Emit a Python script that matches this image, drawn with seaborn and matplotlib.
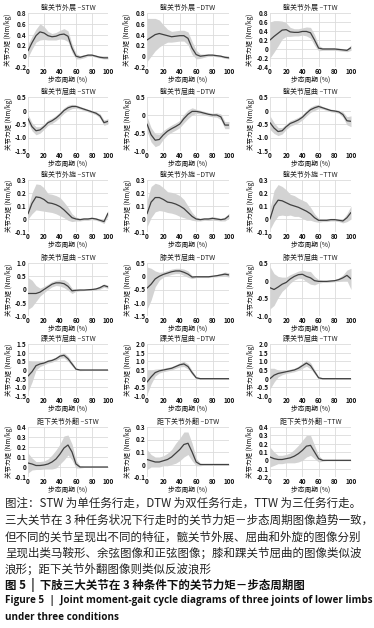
import numpy as np
import pandas as pd
import matplotlib
matplotlib.use("Agg")
import matplotlib.pyplot as plt
import seaborn as sns

sns.set_theme(style="whitegrid")
plt.rcParams['font.family'] = ['Noto Sans CJK SC', 'DejaVu Sans']

# ---------------- data ----------------
gait = [0, 5, 10, 15, 20, 25, 30, 35, 40, 45, 50, 55, 60, 65, 70, 75, 80, 85, 90, 95, 100]
joints = ["髋关节外展", "髋关节屈曲", "髋关节外旋", "膝关节屈曲", "踝关节屈曲", "距下关节外翻"]
tasks = ["STW", "DTW", "TTW"]

# mean curves
hip_abd_stw = [0.10, 0.25, 0.38, 0.45, 0.43, 0.38, 0.36, 0.37, 0.40, 0.41, 0.37, 0.15, 0.00, -0.02, 0.00, 0.02, 0.02, 0.00, -0.02, -0.03, -0.03]
hip_abd_dtw = [0.30, 0.35, 0.40, 0.42, 0.40, 0.38, 0.36, 0.37, 0.38, 0.38, 0.33, 0.15, 0.03, 0.00, 0.01, 0.02, 0.02, 0.01, 0.00, -0.02, -0.03]
hip_abd_ttw = [0.20, 0.28, 0.35, 0.42, 0.43, 0.38, 0.37, 0.37, 0.39, 0.39, 0.36, 0.20, 0.02, 0.00, 0.00, 0.00, 0.00, -0.01, -0.02, -0.03, 0.03]
hip_flx_stw = [-0.30, -0.60, -0.75, -0.72, -0.60, -0.45, -0.38, -0.28, -0.15, 0.00, 0.10, 0.15, 0.15, 0.10, 0.05, 0.00, -0.05, -0.10, -0.20, -0.45, -0.40]
hip_flx_dtw = [-0.25, -0.55, -0.70, -0.68, -0.55, -0.45, -0.38, -0.32, -0.25, -0.10, 0.02, 0.10, 0.10, 0.08, 0.05, 0.02, 0.00, 0.00, -0.05, -0.28, -0.28]
hip_flx_ttw = [-0.45, -0.65, -0.78, -0.75, -0.60, -0.48, -0.42, -0.35, -0.25, -0.10, 0.03, 0.10, 0.15, 0.10, 0.05, 0.00, -0.02, -0.05, -0.15, -0.38, -0.40]
hip_rot_stw = [0.04, 0.12, 0.17, 0.165, 0.15, 0.125, 0.12, 0.11, 0.095, 0.07, 0.04, 0.01, 0.00, -0.005, 0.00, 0.00, 0.005, 0.00, -0.01, -0.02, 0.045]
hip_rot_dtw = [0.04, 0.13, 0.165, 0.165, 0.15, 0.13, 0.125, 0.115, 0.10, 0.08, 0.05, 0.02, 0.00, -0.005, 0.00, 0.00, 0.005, 0.00, -0.005, 0.00, 0.025]
hip_rot_ttw = [0.00, 0.10, 0.145, 0.14, 0.125, 0.11, 0.10, 0.09, 0.075, 0.06, 0.04, 0.01, -0.01, -0.01, -0.01, -0.005, -0.005, -0.01, -0.015, 0.01, 0.05]
knee_stw = [-0.15, -0.15, -0.15, -0.10, 0.00, 0.10, 0.20, 0.25, 0.25, 0.22, 0.12, -0.05, -0.03, -0.02, -0.02, -0.01, 0.00, 0.02, 0.07, 0.15, 0.10]
knee_dtw = [-0.45, -0.30, -0.10, 0.00, 0.07, 0.12, 0.17, 0.20, 0.20, 0.15, 0.08, -0.03, -0.02, -0.02, -0.02, -0.02, 0.00, 0.02, 0.05, 0.08, 0.05]
knee_ttw = [-0.20, -0.25, -0.18, -0.10, -0.05, 0.05, 0.12, 0.17, 0.18, 0.12, 0.08, 0.00, -0.02, -0.02, -0.02, -0.01, 0.00, 0.03, 0.08, 0.15, 0.05]
ankle_stw = [-0.35, -0.10, 0.25, 0.35, 0.40, 0.50, 0.55, 0.65, 0.80, 0.85, 0.65, 0.35, 0.05, 0.00, 0.00, 0.00, 0.00, 0.00, 0.00, 0.00, 0.00]
ankle_dtw = [-0.20, 0.10, 0.35, 0.45, 0.50, 0.55, 0.60, 0.70, 0.80, 0.85, 0.70, 0.35, 0.05, 0.00, 0.00, 0.00, 0.00, 0.00, 0.00, 0.00, 0.00]
ankle_ttw = [0.00, 0.20, 0.30, 0.35, 0.40, 0.45, 0.50, 0.60, 0.75, 0.90, 0.75, 0.40, 0.05, 0.00, 0.00, 0.00, 0.00, 0.00, 0.00, 0.00, 0.00]
sub_stw = [0.04, 0.03, 0.015, 0.015, 0.02, 0.03, 0.05, 0.08, 0.13, 0.19, 0.22, 0.15, 0.03, 0.00, 0.00, 0.00, 0.00, 0.00, 0.00, 0.00, 0.00]
sub_dtw = [0.04, 0.03, 0.02, 0.02, 0.03, 0.04, 0.06, 0.09, 0.12, 0.16, 0.17, 0.10, 0.02, 0.00, 0.00, 0.00, 0.00, 0.00, 0.00, 0.00, 0.00]
sub_ttw = [0.04, 0.02, 0.01, 0.01, 0.02, 0.03, 0.05, 0.08, 0.12, 0.17, 0.18, 0.10, 0.02, 0.00, 0.00, 0.00, 0.00, 0.00, 0.00, 0.00, 0.00]

# half-width of the shaded band (standard deviation)
hip_abd_stw_sd = [0.12, 0.12, 0.12, 0.15, 0.12, 0.08, 0.06, 0.07, 0.08, 0.10, 0.10, 0.08, 0.05, 0.03, 0.03, 0.02, 0.02, 0.02, 0.02, 0.02, 0.02]
hip_abd_dtw_sd = [0.40, 0.35, 0.30, 0.25, 0.18, 0.12, 0.10, 0.10, 0.10, 0.10, 0.12, 0.12, 0.08, 0.04, 0.03, 0.02, 0.02, 0.02, 0.02, 0.02, 0.02]
hip_abd_ttw_sd = [0.40, 0.35, 0.28, 0.20, 0.15, 0.10, 0.08, 0.08, 0.08, 0.10, 0.12, 0.12, 0.06, 0.03, 0.03, 0.03, 0.03, 0.03, 0.03, 0.03, 0.06]
hip_flx_stw_sd = [0.15, 0.15, 0.15, 0.12, 0.10, 0.10, 0.10, 0.10, 0.10, 0.10, 0.10, 0.08, 0.06, 0.05, 0.05, 0.05, 0.05, 0.06, 0.08, 0.10, 0.10]
hip_flx_dtw_sd = [0.20, 0.20, 0.18, 0.15, 0.12, 0.10, 0.10, 0.10, 0.10, 0.12, 0.12, 0.10, 0.06, 0.05, 0.05, 0.05, 0.05, 0.06, 0.08, 0.10, 0.10]
hip_flx_ttw_sd = [0.25, 0.20, 0.15, 0.12, 0.10, 0.10, 0.10, 0.10, 0.10, 0.10, 0.10, 0.10, 0.08, 0.05, 0.05, 0.05, 0.05, 0.06, 0.10, 0.15, 0.20]
hip_rot_stw_sd = [0.04, 0.08, 0.10, 0.10, 0.09, 0.07, 0.07, 0.07, 0.07, 0.06, 0.05, 0.03, 0.015, 0.01, 0.01, 0.01, 0.01, 0.01, 0.01, 0.015, 0.02]
hip_rot_dtw_sd = [0.10, 0.12, 0.11, 0.10, 0.09, 0.08, 0.08, 0.08, 0.08, 0.07, 0.05, 0.03, 0.015, 0.01, 0.01, 0.012, 0.015, 0.012, 0.01, 0.015, 0.02]
hip_rot_ttw_sd = [0.08, 0.12, 0.12, 0.11, 0.10, 0.08, 0.08, 0.07, 0.07, 0.07, 0.05, 0.03, 0.015, 0.01, 0.01, 0.01, 0.01, 0.01, 0.015, 0.03, 0.05]
knee_stw_sd = [0.60, 0.50, 0.30, 0.15, 0.12, 0.10, 0.10, 0.10, 0.12, 0.15, 0.15, 0.10, 0.04, 0.03, 0.02, 0.02, 0.03, 0.04, 0.06, 0.06, 0.06]
knee_dtw_sd = [0.80, 0.60, 0.30, 0.15, 0.10, 0.10, 0.10, 0.10, 0.10, 0.12, 0.12, 0.06, 0.03, 0.03, 0.03, 0.03, 0.03, 0.04, 0.06, 0.08, 0.08]
knee_ttw_sd = [0.60, 0.45, 0.30, 0.20, 0.15, 0.12, 0.10, 0.10, 0.12, 0.15, 0.18, 0.12, 0.05, 0.03, 0.03, 0.03, 0.03, 0.05, 0.08, 0.15, 0.30]
ankle_stw_sd = [0.90, 0.60, 0.25, 0.15, 0.10, 0.10, 0.10, 0.10, 0.12, 0.15, 0.15, 0.12, 0.06, 0.04, 0.03, 0.03, 0.03, 0.03, 0.03, 0.03, 0.03]
ankle_dtw_sd = [0.70, 0.40, 0.20, 0.12, 0.10, 0.10, 0.10, 0.10, 0.12, 0.15, 0.15, 0.12, 0.06, 0.04, 0.03, 0.03, 0.03, 0.03, 0.03, 0.03, 0.03]
ankle_ttw_sd = [0.60, 0.40, 0.20, 0.12, 0.10, 0.10, 0.10, 0.12, 0.15, 0.18, 0.18, 0.12, 0.06, 0.04, 0.03, 0.03, 0.03, 0.03, 0.03, 0.03, 0.03]
sub_stw_sd = [0.10, 0.06, 0.04, 0.04, 0.04, 0.05, 0.07, 0.09, 0.10, 0.12, 0.10, 0.08, 0.04, 0.01, 0.005, 0.005, 0.005, 0.005, 0.005, 0.005, 0.005]
sub_dtw_sd = [0.08, 0.05, 0.04, 0.04, 0.04, 0.05, 0.06, 0.08, 0.09, 0.10, 0.09, 0.07, 0.03, 0.01, 0.005, 0.005, 0.005, 0.005, 0.005, 0.005, 0.005]
sub_ttw_sd = [0.12, 0.08, 0.05, 0.05, 0.05, 0.06, 0.08, 0.10, 0.12, 0.13, 0.12, 0.08, 0.04, 0.01, 0.005, 0.005, 0.005, 0.005, 0.005, 0.005, 0.005]

means = [[hip_abd_stw, hip_abd_dtw, hip_abd_ttw],
         [hip_flx_stw, hip_flx_dtw, hip_flx_ttw],
         [hip_rot_stw, hip_rot_dtw, hip_rot_ttw],
         [knee_stw, knee_dtw, knee_ttw],
         [ankle_stw, ankle_dtw, ankle_ttw],
         [sub_stw, sub_dtw, sub_ttw]]
sds = [[hip_abd_stw_sd, hip_abd_dtw_sd, hip_abd_ttw_sd],
       [hip_flx_stw_sd, hip_flx_dtw_sd, hip_flx_ttw_sd],
       [hip_rot_stw_sd, hip_rot_dtw_sd, hip_rot_ttw_sd],
       [knee_stw_sd, knee_dtw_sd, knee_ttw_sd],
       [ankle_stw_sd, ankle_dtw_sd, ankle_ttw_sd],
       [sub_stw_sd, sub_dtw_sd, sub_ttw_sd]]

# y ticks per panel
yticks = [[[-0.2, 0, 0.2, 0.4, 0.6, 0.8], [-0.2, 0, 0.2, 0.4, 0.6, 0.8], [-0.4, -0.2, 0, 0.2, 0.4, 0.6, 0.8]],
          [[-1.5, -1.0, -0.5, 0, 0.5], [-1.0, -0.5, 0, 0.5], [-1.5, -1.0, -0.5, 0, 0.5]],
          [[-0.1, 0, 0.1, 0.2, 0.3], [-0.1, 0, 0.1, 0.2, 0.3], [-0.1, 0, 0.1, 0.2, 0.3]],
          [[-1.0, -0.5, 0, 0.5, 1.0], [-1.5, -1.0, -0.5, 0, 0.5], [-1.0, -0.5, 0, 0.5]],
          [[-1.5, -1.0, -0.5, 0, 0.5, 1.0, 1.5], [-1.0, -0.5, 0, 0.5, 1.0, 1.5, 2.0], [-1.0, -0.5, 0, 0.5, 1.0, 1.5, 2.0]],
          [[-0.1, 0, 0.1, 0.2, 0.3, 0.4], [-0.1, 0, 0.1, 0.2, 0.3], [-0.2, -0.1, 0, 0.1, 0.2, 0.3, 0.4]]]
xticks = [0, 20, 40, 60, 80, 100]

caption = [
    "图注：STW 为单任务行走，DTW 为双任务行走，TTW 为三任务行走。",
    "三大关节在 3 种任务状况下行走时的关节力矩－步态周期图像趋势一致，",
    "但不同的关节呈现出不同的特征，髋关节外展、屈曲和外旋的图像分别",
    "呈现出类马鞍形、余弦图像和正弦图像；膝和踝关节屈曲的图像类似波",
    "浪形；距下关节外翻图像则类似反波浪形",
]
fig_title_cn = "图 5  |  下肢三大关节在 3 种条件下的关节力矩－步态周期图"
fig_title_en = ["Figure 5  |  Joint moment-gait cycle diagrams of three joints of lower limbs",
                "under three conditions"]

# ---------------- layout ----------------
W, H = 374, 628
fig = plt.figure(figsize=(W / 100, H / 100), dpi=100)
fig.patch.set_facecolor("white")

col_px = [(28, 108), (147, 229), (270, 351)]
row_px = [(13, 67), (97, 151), (180, 232), (263, 316), (344, 396), (427, 477)]

fmt = lambda v: "0" if v == 0 else f"{v:.1f}"

for r in range(6):
    for c in range(3):
        l, rr = col_px[c]
        t, b = row_px[r]
        ax = fig.add_axes([l / W, 1 - b / H, (rr - l) / W, (b - t) / H])
        m = np.array(means[r][c])
        s = np.array(sds[r][c])
        df = pd.DataFrame({"gait": gait, "moment": m})
        ax.fill_between(gait, m - s, m + s, color="#d3d3d3", lw=0, zorder=1)
        sns.lineplot(data=df, x="gait", y="moment", ax=ax, color="#404040", lw=0.9, zorder=3)
        yt = yticks[r][c]
        ax.set_xlim(0, 100)
        ax.set_ylim(yt[0], yt[-1])
        ax.set_xticks(xticks)
        ax.set_yticks(yt)
        ax.set_yticklabels([fmt(v) for v in yt])
        ax.tick_params(axis="both", labelsize=4.6, length=0, pad=1.0, colors="#111111")
        for lab in ax.get_xticklabels() + ax.get_yticklabels():
            lab.set_fontweight("bold")
        ax.grid(True, color="#dcdcdc", lw=0.6)
        for sp in ax.spines.values():
            sp.set_visible(False)
        ax.set_facecolor("white")
        ax.set_title(f"{joints[r]} –{tasks[c]}", fontsize=5.0, pad=2.5, color="#222222")
        ax.set_xlabel("步态周期 (%)", fontsize=4.9, labelpad=0.5, color="#111111")
        ax.set_ylabel("关节力矩 (Nm/kg)", fontsize=4.7, labelpad=1.5, color="#111111")

# ---------------- caption ----------------
renderer = fig.canvas.get_renderer()


def fit_size(txt, target_px, base, **kw):
    t = fig.text(0, 0, txt, fontsize=base, **kw)
    w = t.get_window_extent(renderer).width
    t.remove()
    return base * target_px / w


cn_size = min(fit_size(caption[i], 365, 8.5) for i in (1, 2, 3))
en_size = fit_size(fig_title_en[0], 366, 7.3, fontweight="bold", family=["Open Sans", "DejaVu Sans"])

cap_y = [503, 520, 537, 553, 569]
for txt, y in zip(caption, cap_y):
    fig.text(5 / W, 1 - y / H, txt, fontsize=cn_size, color="#222222", va="center", ha="left")
fig.text(5 / W, 1 - 585 / H, fig_title_cn, fontsize=cn_size, color="#111111", va="center", ha="left",
         fontweight="bold")
fig.text(5 / W, 1 - 601 / H, fig_title_en[0], fontsize=en_size, color="#111111", va="center", ha="left",
         fontweight="bold", family=["Open Sans", "DejaVu Sans"])
fig.text(5 / W, 1 - 617 / H, fig_title_en[1], fontsize=en_size, color="#111111", va="center", ha="left",
         fontweight="bold", family=["Open Sans", "DejaVu Sans"])

fig.savefig("out.png", dpi=100, facecolor="white")
